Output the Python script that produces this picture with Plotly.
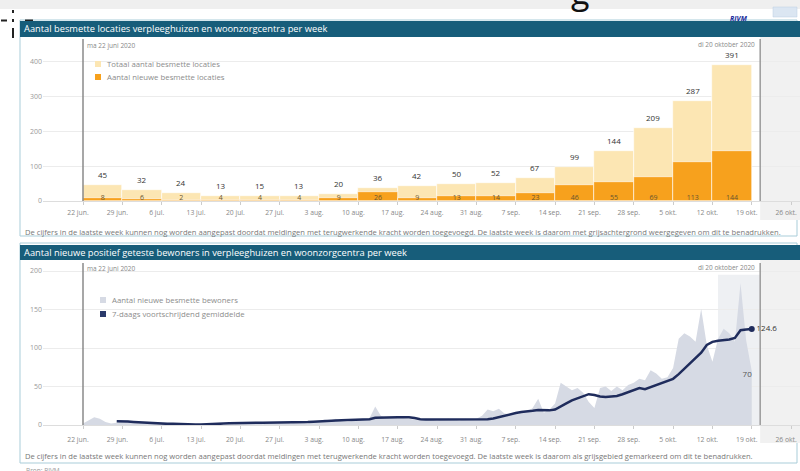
import pandas as pd
import plotly.graph_objects as go

# ---------------- data ----------------
week_starts = ["2020-06-22", "2020-06-29", "2020-07-06", "2020-07-13", "2020-07-20",
               "2020-07-27", "2020-08-03", "2020-08-10", "2020-08-17", "2020-08-24",
               "2020-08-31", "2020-09-07", "2020-09-14", "2020-09-21", "2020-09-28",
               "2020-10-05", "2020-10-12"]
total_locations = [45, 32, 24, 13, 15, 13, 20, 36, 42, 50, 52, 67, 99, 144, 209, 287, 391]
new_locations = [8, 6, 2, 4, 4, 4, 9, 26, 9, 13, 14, 23, 46, 55, 69, 113, 144]

tick_dates = ["2020-06-22", "2020-06-29", "2020-07-06", "2020-07-13", "2020-07-20",
              "2020-07-27", "2020-08-03", "2020-08-10", "2020-08-17", "2020-08-24",
              "2020-08-31", "2020-09-07", "2020-09-14", "2020-09-21", "2020-09-28",
              "2020-10-05", "2020-10-12", "2020-10-19", "2020-10-26"]
tick_labels = ["22 jun.", "29 jun.", "6 jul.", "13 jul.", "20 jul.", "27 jul.", "3 aug.",
               "10 aug.", "17 aug.", "24 aug.", "31 aug.", "7 sep.", "14 sep.", "21 sep.",
               "28 sep.", "5 okt.", "12 okt.", "19 okt.", "26 okt."]

daily_start = "2020-06-22"
daily_residents = [2, 6, 10, 8, 4, 2, 3,
                   5, 6, 3, 4, 2, 3, 1,
                   1, 2, 1, 0, 1, 2, 1,
                   0, 1, 1, 2, 0, 1, 1,
                   3, 2, 4, 3, 1, 2, 3,
                   3, 4, 2, 5, 3, 2, 4,
                   5, 7, 6, 8, 5, 4, 6,
                   7, 8, 9, 24, 12, 9, 10,
                   11, 9, 8, 7, 6, 8, 7,
                   6, 7, 8, 7, 6, 8, 7,
                   8, 12, 20, 18, 21, 15, 14,
                   16, 18, 17, 22, 34, 16, 20,
                   28, 55, 50, 45, 48, 42, 30,
                   22, 48, 50, 44, 50, 45, 52,
                   55, 60, 58, 71, 67, 60, 62,
                   74, 112, 119, 115, 108, 151, 104,
                   82, 112, 125, 119, 108, 184, 110,
                   70]
avg_start = "2020-06-28"
avg_residents = [5, 5, 4.5, 4, 3.5, 3, 2.5,
                 2, 2, 1.5, 1.5, 1, 1, 0.8,
                 0.5, 0.5, 0.6, 0.8, 1.2, 1.8, 2.2,
                 2.5, 2.6, 2.8, 3, 3, 3, 3,
                 3.2, 3.3, 3.5, 3.5, 3.5, 3.5, 3.8,
                 4.2, 4.8, 5.2, 5.8, 6, 6.2, 6.5,
                 6.8, 7, 7, 7.5, 9.5, 9.8, 10,
                 10, 10, 10, 10.2, 9, 7.5, 7,
                 7, 7, 7, 7, 7.2, 7.5, 7.3,
                 7, 7, 7.2, 7.5, 8.5, 10.5, 12.5,
                 14, 15.5, 17, 17.5, 18.5, 19.5, 19.5,
                 19, 20, 23.5, 28, 32, 35, 38,
                 40, 39, 37, 36.5, 37, 37.7, 40,
                 43, 46, 48, 46.5, 49, 52.5, 55,
                 57.5, 60, 66, 73, 80, 86, 94,
                 104, 108, 109.5, 110.5, 111, 113, 123,
                 124, 124.6]

# ---------------- helpers ----------------
W, H = 800, 471
FONT = "Open Sans"

def px(x):
    return x / W

def py(y):
    return 1 - y / H

daily_dates = pd.date_range(daily_start, periods=len(daily_residents), freq="D")
avg_dates = pd.date_range(avg_start, periods=len(avg_residents), freq="D")
week_mid = [pd.Timestamp(d) + pd.Timedelta(hours=84) for d in week_starts]
WEEK_MS = 7 * 24 * 3600 * 1000

x_range = ["2020-06-14 21:10", "2020-10-27 14:00"]
report_day = "2020-10-20 12:00"

C_TOTAL = "#fce6b3"
C_NEW = "#f7a11d"
C_AREA = "#d6dae4"
C_LINE = "#1f2c5c"
C_HEAD = "#175d7a"
C_BORDER = "#a9cdd9"

fig = go.Figure()

# ---- panel 1 bars
fig.add_trace(go.Bar(x=week_starts, y=total_locations, offset=0, width=WEEK_MS,
                     marker=dict(color=C_TOTAL, line=dict(color="white", width=0.6)),
                     xaxis="x", yaxis="y", hoverinfo="skip"))
fig.add_trace(go.Bar(x=week_starts, y=new_locations, offset=0, width=WEEK_MS,
                     marker=dict(color=C_NEW, line=dict(color="white", width=0.6)),
                     xaxis="x", yaxis="y", hoverinfo="skip"))
fig.add_trace(go.Scatter(x=week_mid, y=[7] * len(new_locations), mode="text",
                         text=[str(v) for v in new_locations],
                         textfont=dict(size=7, color="#6a5630", family=FONT),
                         xaxis="x", yaxis="y", hoverinfo="skip"))

# ---- panel 2 area + line
fig.add_trace(go.Scatter(x=daily_dates, y=daily_residents, mode="lines", fill="tozeroy",
                         fillcolor=C_AREA, line=dict(width=0, color=C_AREA),
                         xaxis="x2", yaxis="y2", hoverinfo="skip"))
fig.add_trace(go.Scatter(x=avg_dates, y=avg_residents, mode="lines",
                         line=dict(color=C_LINE, width=2.5),
                         xaxis="x2", yaxis="y2", hoverinfo="skip"))
fig.add_trace(go.Scatter(x=[avg_dates[-1]], y=[avg_residents[-1]], mode="markers+text",
                         marker=dict(size=6, color=C_LINE),
                         text=[str(avg_residents[-1])], textposition="middle right",
                         textfont=dict(size=8, color="#333333", family=FONT),
                         cliponaxis=False, xaxis="x2", yaxis="y2", hoverinfo="skip"))
fig.add_trace(go.Scatter(x=[daily_dates[-1]], y=[daily_residents[-1]], mode="text",
                         text=[str(daily_residents[-1])], textposition="bottom left",
                         textfont=dict(size=8, color="#555555", family=FONT),
                         xaxis="x2", yaxis="y2", hoverinfo="skip"))

shapes = []
annotations = []

# total labels above bars
for xm, v in zip(week_mid, total_locations):
    annotations.append(dict(text=str(v), x=xm, y=v, xref="x", yref="y", yanchor="bottom",
                            yshift=3, showarrow=False,
                            font=dict(size=8, color="#333333", family=FONT)))

# top band & small marks
shapes.append(dict(type="rect", xref="paper", yref="paper", x0=0, x1=1, y0=py(9), y1=1,
                   fillcolor="#efefef", line_width=0, layer="below"))
for (a, b, c, d) in [(1, 7, 19.5, 21.5), (12, 14, 10, 13), (12, 14, 19, 22),
                     (12, 14, 28, 38), (25, 33, 19.5, 21.5)]:
    shapes.append(dict(type="rect", xref="paper", yref="paper", x0=px(a), x1=px(b),
                       y0=py(d), y1=py(c), fillcolor="#222222", line_width=0))
shapes.append(dict(type="rect", xref="paper", yref="paper", x0=px(773), x1=px(797),
                   y0=py(17), y1=py(7), fillcolor="#dbe6f2", line=dict(color="#b9cce0", width=0.5)))
annotations.append(dict(text="<b><i>RIVM</i></b>", x=px(750), y=py(11.5), xref="paper", yref="paper",
                        showarrow=False, font=dict(size=7, color="#1c2c9c", family=FONT)))
annotations.append(dict(text="g", x=px(580), y=py(16), xref="paper", yref="paper",
                        xanchor="center", yanchor="bottom", showarrow=False,
                        font=dict(size=34, color="#111111", family=FONT)))

# panels
for top, bottom, head_top, head_bot, title, note, note_y in [
    (20, 236, 21, 37, "Aantal besmette locaties verpleeghuizen en woonzorgcentra per week",
     "De cijfers in de laatste week kunnen nog worden aangepast doordat meldingen met terugwerkende kracht worden toegevoegd. De laatste week is daarom met grijsachtergrond weergegeven om dit te benadrukken.",
     232),
    (243, 463, 245, 260, "Aantal nieuwe positief geteste bewoners in verpleeghuizen en woonzorgcentra per week",
     "De cijfers in de laatste week kunnen nog worden aangepast doordat meldingen met terugwerkende kracht worden toegevoegd. De laatste week is daarom als grijsgebied gemarkeerd om dit te benadrukken.",
     456),
]:
    shapes.append(dict(type="rect", xref="paper", yref="paper", x0=px(20), x1=px(797),
                       y0=py(bottom), y1=py(top), line=dict(color=C_BORDER, width=1), layer="below"))
    shapes.append(dict(type="rect", xref="paper", yref="paper", x0=px(20), x1=1,
                       y0=py(head_bot), y1=py(head_top), fillcolor=C_HEAD, line_width=0))
    annotations.append(dict(text=title, x=px(22), y=py((head_top + head_bot) / 2),
                            xref="paper", yref="paper", xanchor="left", yanchor="middle",
                            showarrow=False, font=dict(size=9.3, color="white", family=FONT)))
    annotations.append(dict(text=note, x=px(23), y=py(note_y), xref="paper", yref="paper",
                            xanchor="left", yanchor="middle", showarrow=False,
                            font=dict(size=7.6, color="#777777", family=FONT)))

# gray region after report date
for xr, gt, gb in [("x", 37, 220), ("x2", 260, 443)]:
    shapes.append(dict(type="rect", xref=xr, yref="paper", x0=report_day, x1=x_range[1],
                       y0=py(gb), y1=py(gt), fillcolor="#f1f1f1", line_width=0, layer="below"))
# last-week shading panel 2
shapes.append(dict(type="rect", xref="x2", yref="y2", x0="2020-10-13", x1=report_day,
                   y0=0, y1=195, fillcolor="#eef0f3", line_width=0, layer="below"))

# vertical reference lines + dates
for xr, ytop, ybot, lab_y in [("x", 39, 201, 46), ("x2", 263, 425, 268)]:
    shapes.append(dict(type="line", xref=xr, yref="paper", x0="2020-06-22", x1="2020-06-22",
                       y0=py(ybot), y1=py(ytop), line=dict(color="#8a8a8a", width=1.5)))
    shapes.append(dict(type="line", xref=xr, yref="paper", x0=report_day, x1=report_day,
                       y0=py(ybot), y1=py(ytop), line=dict(color="#9a9a9a", width=1.5)))
    annotations.append(dict(text="ma 22 juni 2020", x="2020-06-22 10:00", y=py(lab_y), xref=xr,
                            yref="paper", xanchor="left", yanchor="middle", showarrow=False,
                            font=dict(size=6.5, color="#888888", family=FONT)))
    annotations.append(dict(text="di 20 oktober 2020", x="2020-10-20 00:00", y=py(lab_y - 1), xref=xr,
                            yref="paper", xanchor="right", yanchor="middle", showarrow=False,
                            font=dict(size=6.5, color="#888888", family=FONT)))

# legends (swatch + label)
for x0, yc, color, label in [(95, 64, C_TOTAL, "Totaal aantal besmette locaties"),
                             (95, 77, C_NEW, "Aantal nieuwe besmette locaties"),
                             (100, 300, C_AREA, "Aantal nieuwe besmette bewoners"),
                             (100, 314, "#2b3a6b", "7-daags voortschrijdend gemiddelde")]:
    shapes.append(dict(type="rect", xref="paper", yref="paper", x0=px(x0), x1=px(x0 + 6),
                       y0=py(yc + 3), y1=py(yc - 3), fillcolor=color, line_width=0))
    annotations.append(dict(text=label, x=px(x0 + 10), y=py(yc), xref="paper", yref="paper",
                            xanchor="left", yanchor="middle", showarrow=False,
                            font=dict(size=7.8, color="#8c8c8c", family=FONT)))

annotations.append(dict(text="Bron: RIVM", x=px(24), y=py(470), xref="paper", yref="paper",
                        xanchor="left", yanchor="middle", showarrow=False,
                        font=dict(size=6.5, color="#999999", family=FONT)))

xaxis_common = dict(type="date", range=x_range, domain=[px(43), 1], tickmode="array",
                    tickvals=tick_dates, ticktext=tick_labels, showgrid=False,
                    ticks="outside", ticklen=3, tickcolor="#cccccc", showline=True,
                    linecolor="#dddddd", linewidth=1, zeroline=False, automargin=False,
                    ticklabeloverflow="allow", ticklabelshift=-5,
                    tickfont=dict(size=6.8, color="#888888", family=FONT))
yaxis_common = dict(showgrid=True, gridcolor="#ececec", gridwidth=1, zeroline=False,
                    showline=False, ticks="", automargin=False,
                    tickfont=dict(size=7, color="#9a9a9a", family=FONT))

fig.update_layout(
    width=W, height=H, margin=dict(l=0, r=0, t=0, b=0, autoexpand=False),
    paper_bgcolor="white", plot_bgcolor="rgba(0,0,0,0)",
    barmode="overlay", showlegend=False, bargap=0,
    font=dict(family=FONT),
    xaxis=dict(anchor="y", ticklabelstandoff=2, **xaxis_common),
    yaxis=dict(anchor="x", domain=[py(201), py(41)], range=[0, 460],
               tickvals=[0, 100, 200, 300, 400], **yaxis_common),
    xaxis2=dict(anchor="y2", ticklabelstandoff=5, **xaxis_common),
    yaxis2=dict(anchor="x2", domain=[py(425), py(263.3)], range=[0, 210],
                tickvals=[0, 50, 100, 150, 200], **yaxis_common),
    shapes=shapes, annotations=annotations,
)

fig.write_html("out.html", config={"displayModeBar": False},
               post_script="document.body.style.margin='0';document.body.style.overflow='hidden';")
